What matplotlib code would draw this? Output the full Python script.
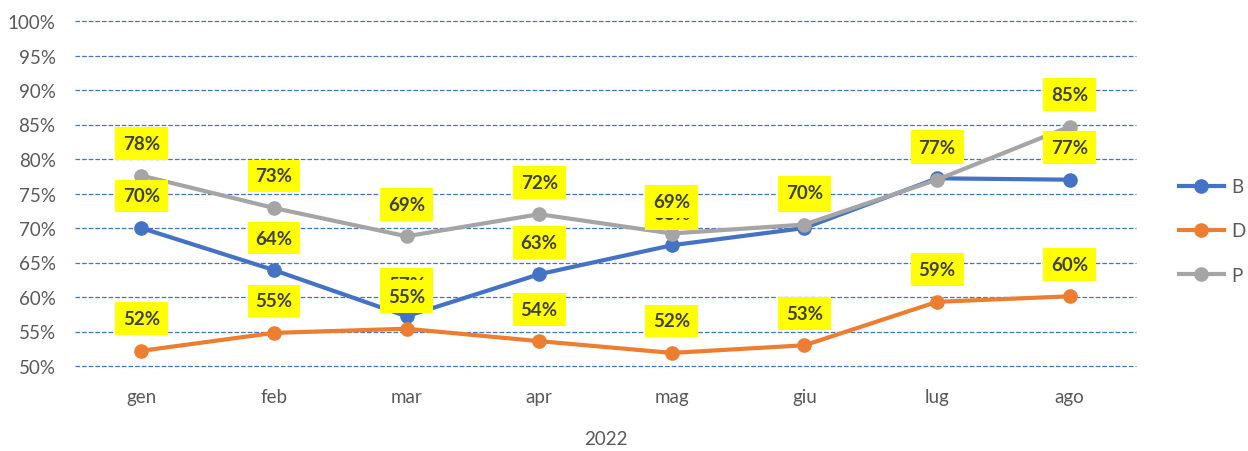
import matplotlib.pyplot as plt
from matplotlib.ticker import FuncFormatter

months = ['gen', 'feb', 'mar', 'apr', 'mag', 'giu', 'lug', 'ago']
b_vals = [70.0, 63.9, 57.2, 63.3, 67.5, 70.0, 77.2, 77.0]
d_vals = [52.2, 54.8, 55.4, 53.6, 51.9, 53.0, 59.3, 60.1]
p_vals = [77.6, 72.9, 68.8, 72.0, 69.2, 70.5, 77.0, 84.7]

series = [('B', b_vals, '#4472C4'), ('D', d_vals, '#ED7D31'), ('P', p_vals, '#A5A5A5')]

plt.rcParams['font.family'] = ['Lato', 'DejaVu Sans']

fig = plt.figure(figsize=(12.48, 4.52), dpi=100)
ax = fig.add_axes([75 / 1248, 1 - 367 / 452, (1136 - 75) / 1248, (367 - 22) / 452])

x = list(range(len(months)))
for name, vals, col in series:
    ax.plot(x, vals, color=col, lw=3, marker='o', ms=9.5, label=name, zorder=3)

# data labels drawn after all lines, in series order
for name, vals, col in series:
    for xi, v in zip(x, vals):
        ax.annotate(f'{v:.0f}%', (xi, v), xytext=(0, 32), textcoords='offset pixels',
                    ha='center', va='center', fontsize=13.5, fontweight='bold', color='#404040',
                    bbox=dict(boxstyle='square,pad=0.42', fc='#FFFF00', ec='none'), zorder=5)

ax.set_xlim(-0.5, len(months) - 0.5)
ax.set_ylim(50, 100)
ax.set_yticks(range(50, 101, 5))
ax.yaxis.set_major_formatter(FuncFormatter(lambda v, p: f'{v:.0f}%'))
ax.set_xticks(x)
ax.set_xticklabels(months)
ax.tick_params(axis='both', length=0, labelsize=13.5, colors='#595959')
ax.tick_params(axis='x', pad=16)
ax.tick_params(axis='y', pad=14)
ax.grid(axis='y', color='#4472C4', ls='--', lw=0.9)
for gl in ax.get_ygridlines():
    gl.set_clip_on(False)
for s in ['top', 'right', 'left', 'bottom']:
    ax.spines[s].set_visible(False)
ax.set_xlabel('2022', fontsize=13.5, color='#595959', labelpad=18)

ax.legend(loc='center left', bbox_to_anchor=(1162 / 1248, 1 - 232 / 452),
          bbox_transform=fig.transFigure, frameon=False, fontsize=13.5,
          labelspacing=1.45, handlelength=2.4, handletextpad=0.4, labelcolor='#595959')

fig.savefig('out.png', dpi=100)
